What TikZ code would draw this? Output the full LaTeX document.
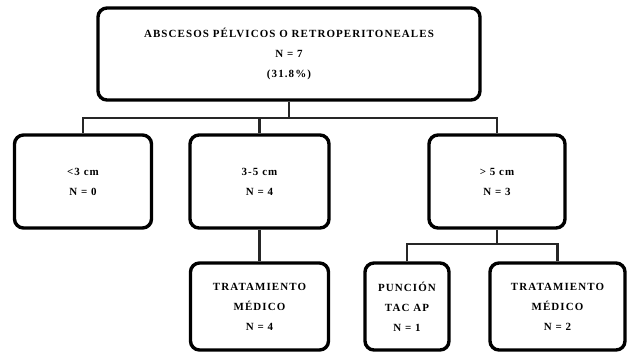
\documentclass[tikz,border=0pt]{standalone}
\usepackage{fontspec}
\setmainfont{Liberation Serif}[LetterSpace=10]
\begin{document}
\begin{tikzpicture}[x=1bp,y=-1bp,
  box/.style={draw=black,line width=3.4bp,rounded corners=9bp,fill=white,
    align=center,inner sep=0pt,font=\fontsize{11}{20}\selectfont\bfseries},
  link/.style={draw=black!85,line width=2.6bp}]
\useasboundingbox (0,0) rectangle (629,353);
\node[box,minimum width=382bp,minimum height=92bp] (top) at (289,54)
  {ABSCESOS PÉLVICOS O RETROPERITONEALES\\N = 7\\(31.8\%)};
\node[box,minimum width=137bp,minimum height=93bp] (b1) at (83,181.5) {<3 cm\\N = 0};
\node[box,minimum width=139bp,minimum height=93bp] (b2) at (259.5,181.5) {3-5 cm\\N = 4};
\node[box,minimum width=136bp,minimum height=93bp] (b3) at (497,181.5) {> 5 cm\\N = 3};
\node[box,minimum width=138bp,minimum height=87bp] (b4) at (259.5,306.5) {TRATAMIENTO\\MÉDICO\\N = 4};
\node[box,minimum width=84bp,minimum height=87bp] (b5) at (407,306.5) {PUNCIÓN\\TAC AP\\N = 1};
\node[box,minimum width=135bp,minimum height=87bp] (b6) at (557.5,306.5) {TRATAMIENTO\\MÉDICO\\N = 2};
\coordinate (j1) at (289,118);
\coordinate (j2) at (497,244);
\draw[link] (top.south) -- (j1);
\draw[link] (b1.north) |- (j1) -| (b3.north);
\draw[link] (j1 -| b2.north) -- (b2.north);
\draw[link] (b2.south) -- (b4.north);
\draw[link] (b3.south) -- (j2);
\draw[link] (b5.north) |- (j2) -| (b6.north);
\end{tikzpicture}
\end{document}
